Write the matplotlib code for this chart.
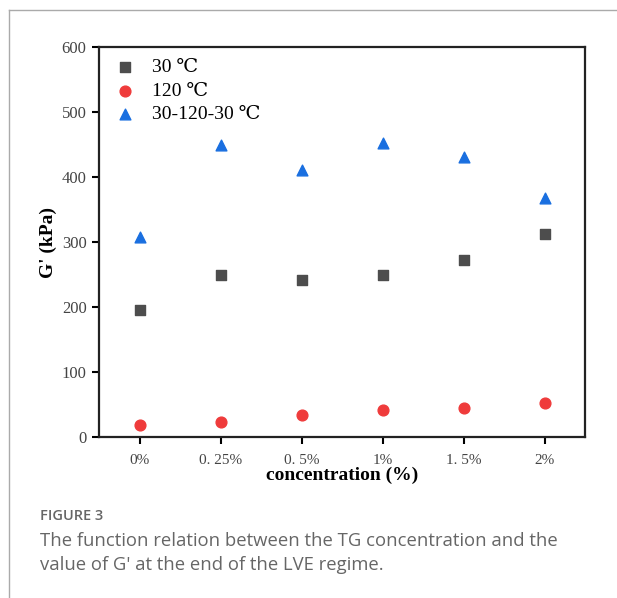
import numpy as np
import matplotlib.pyplot as plt
from matplotlib.lines import Line2D

conc_labels = ['0%', '0. 25%', '0. 5%', '1%', '1. 5%', '2%']
g_30 = [195, 250, 242, 249, 272, 312]
g_120 = [18, 23, 34, 42, 45, 53]
g_cycle = [308, 449, 411, 453, 431, 368]

serif = ['Liberation Serif', 'DejaVu Serif']

fig = plt.figure(figsize=(6.17, 5.98), dpi=100)
W, H = 617, 598

# frame lines around the figure panel
fig.add_artist(Line2D([9 / W, 1], [1 - 10 / H, 1 - 10 / H], color='#aaaaaa', lw=1))
fig.add_artist(Line2D([9 / W, 9 / W], [0, 1 - 10 / H], color='#aaaaaa', lw=1))

ax = fig.add_axes([99 / W, 1 - 437 / H, (585 - 99) / W, (437 - 47) / H])
x = np.arange(len(conc_labels))
ax.scatter(x, g_30, marker='s', s=45, color='#4d4d4d', label='30 ℃', zorder=3)
ax.scatter(x, g_120, marker='o', s=60, color='#ef3b3b', label='120 ℃', zorder=3)
ax.scatter(x, g_cycle, marker='^', s=60, color='#1a6fe0', label='30-120-30 ℃', zorder=3)

ax.set_xlim(-0.5, 5.5)
ax.set_ylim(0, 600)
ax.set_xticks(x)
ax.set_xticklabels(conc_labels, family=serif, fontsize=11, color='#444444')
ax.set_yticks(np.arange(0, 601, 100))
for lab in ax.get_yticklabels():
    lab.set_family(serif)
    lab.set_fontsize(12)
    lab.set_color('#444444')
ax.tick_params(direction='out', length=5, width=1.5, pad=4)
ax.tick_params(axis='x', pad=7)
for sp in ax.spines.values():
    sp.set_linewidth(1.6)
    sp.set_color('#222222')

ax.set_xlabel('concentration (%)', family=serif, fontsize=14, fontweight='bold', labelpad=0)
ax.set_ylabel("G' (kPa)", family=serif, fontsize=14, fontweight='bold', labelpad=3)

leg = ax.legend(loc='upper left', frameon=False, prop={'family': serif, 'size': 14},
                handlelength=1.0, handletextpad=0.9, borderaxespad=0.2, labelspacing=0.3,
                bbox_to_anchor=(0.01, 1.0))

fig.text(40 / W, 1 - 516 / H, 'FIGURE 3', family='Open Sans', fontsize=10.5,
         color='#666666', va='center', fontweight='semibold')
fig.text(40 / W, 1 - 541 / H, 'The function relation between the TG concentration and the',
         family='Open Sans', fontsize=13.3, color='#666666', va='center')
fig.text(40 / W, 1 - 565 / H, "value of G' at the end of the LVE regime.",
         family='Open Sans', fontsize=13.3, color='#666666', va='center')

fig.savefig('out.png', dpi=100)
